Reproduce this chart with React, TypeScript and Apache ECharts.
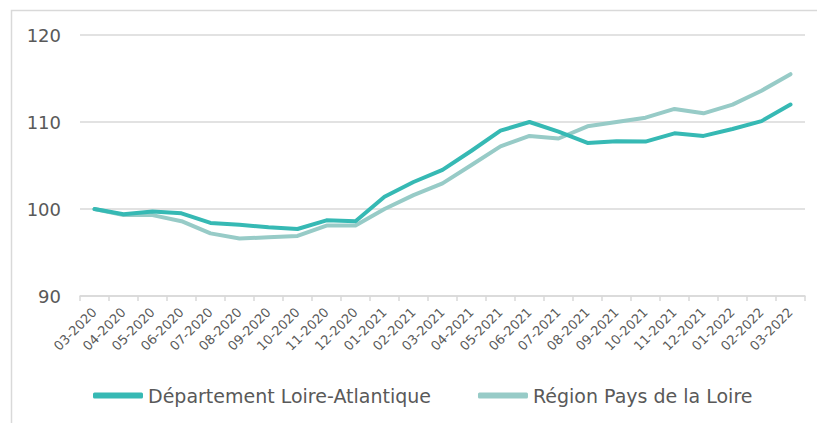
import React, { useEffect, useRef } from "react";
import * as echarts from "echarts";

const categories = [
  "03-2020", "04-2020", "05-2020", "06-2020", "07-2020", "08-2020", "09-2020",
  "10-2020", "11-2020", "12-2020", "01-2021", "02-2021", "03-2021", "04-2021",
  "05-2021", "06-2021", "07-2021", "08-2021", "09-2021", "10-2021", "11-2021",
  "12-2021", "01-2022", "02-2022", "03-2022",
];

const loireAtlantique = [
  100.0, 99.4, 99.7, 99.5, 98.4, 98.2, 97.9, 97.7, 98.7, 98.6, 101.4, 103.1,
  104.5, 106.7, 109.0, 110.0, 108.9, 107.6, 107.8, 107.75, 108.7, 108.4, 109.2,
  110.1, 112.0,
];

const paysDeLaLoire = [
  100.0, 99.3, 99.3, 98.6, 97.2, 96.6, 96.75, 96.9, 98.1, 98.1, 100.0, 101.6,
  102.95, 105.05, 107.2, 108.4, 108.1, 109.5, 110.0, 110.5, 111.5, 111.0, 112.0,
  113.6, 115.5,
];

const seriesNames = ["Département Loire-Atlantique", "Région Pays de la Loire"];
const yTicks = { min: 90, max: 120, interval: 10 };

export default function App() {
  const ref = useRef<HTMLDivElement>(null);
  useEffect(() => {
    if (!ref.current) return;
    const chart = echarts.init(ref.current, undefined, { renderer: "svg" });
    const font = "'DejaVu Sans', Verdana, sans-serif";
    chart.setOption({
      animation: false,
      textStyle: { fontFamily: font },
      graphic: [
        {
          type: "rect",
          left: 9,
          top: 8,
          shape: { width: 830, height: 440 },
          style: { fill: "none", stroke: "#d9d9d9", lineWidth: 1.5 },
          silent: true,
        },
      ],
      grid: { left: 80, right: 12, top: 35, bottom: 127 },
      legend: {
        data: seriesNames,
        left: 88,
        top: 381,
        itemWidth: 50,
        itemHeight: 6,
        itemGap: 47,
        icon: "roundRect",
        textStyle: { fontSize: 19, color: "#595959", fontFamily: font },
      },
      xAxis: {
        type: "category",
        data: categories,
        boundaryGap: true,
        axisLine: { lineStyle: { color: "#d9d9d9", width: 1.5 } },
        axisTick: { show: true, length: 5, lineStyle: { color: "#d9d9d9", width: 1.5 } },
        axisLabel: {
          rotate: 45,
          interval: 0,
          margin: 14,
          fontSize: 13,
          color: "#595959",
          fontFamily: font,
        },
      },
      yAxis: {
        type: "value",
        min: yTicks.min,
        max: yTicks.max,
        interval: yTicks.interval,
        axisLine: { show: false },
        axisTick: { show: false },
        axisLabel: { fontSize: 18, color: "#595959", margin: 19, fontFamily: font },
        splitLine: { lineStyle: { color: "#d9d9d9", width: 1.5 } },
      },
      series: [
        {
          name: seriesNames[0],
          type: "line",
          data: loireAtlantique,
          symbol: "none",
          color: "#36b9b4",
          lineStyle: { width: 4, color: "#36b9b4", cap: "round", join: "round" },
          z: 3,
        },
        {
          name: seriesNames[1],
          type: "line",
          data: paysDeLaLoire,
          symbol: "none",
          color: "#97cbc7",
          lineStyle: { width: 4, color: "#97cbc7", cap: "round", join: "round" },
          z: 2,
        },
      ],
    });
    return () => chart.dispose();
  }, []);
  return (
    <div
      ref={ref}
      style={{ position: "absolute", left: 0, top: 0, width: 817, height: 423 }}
    />
  );
}
